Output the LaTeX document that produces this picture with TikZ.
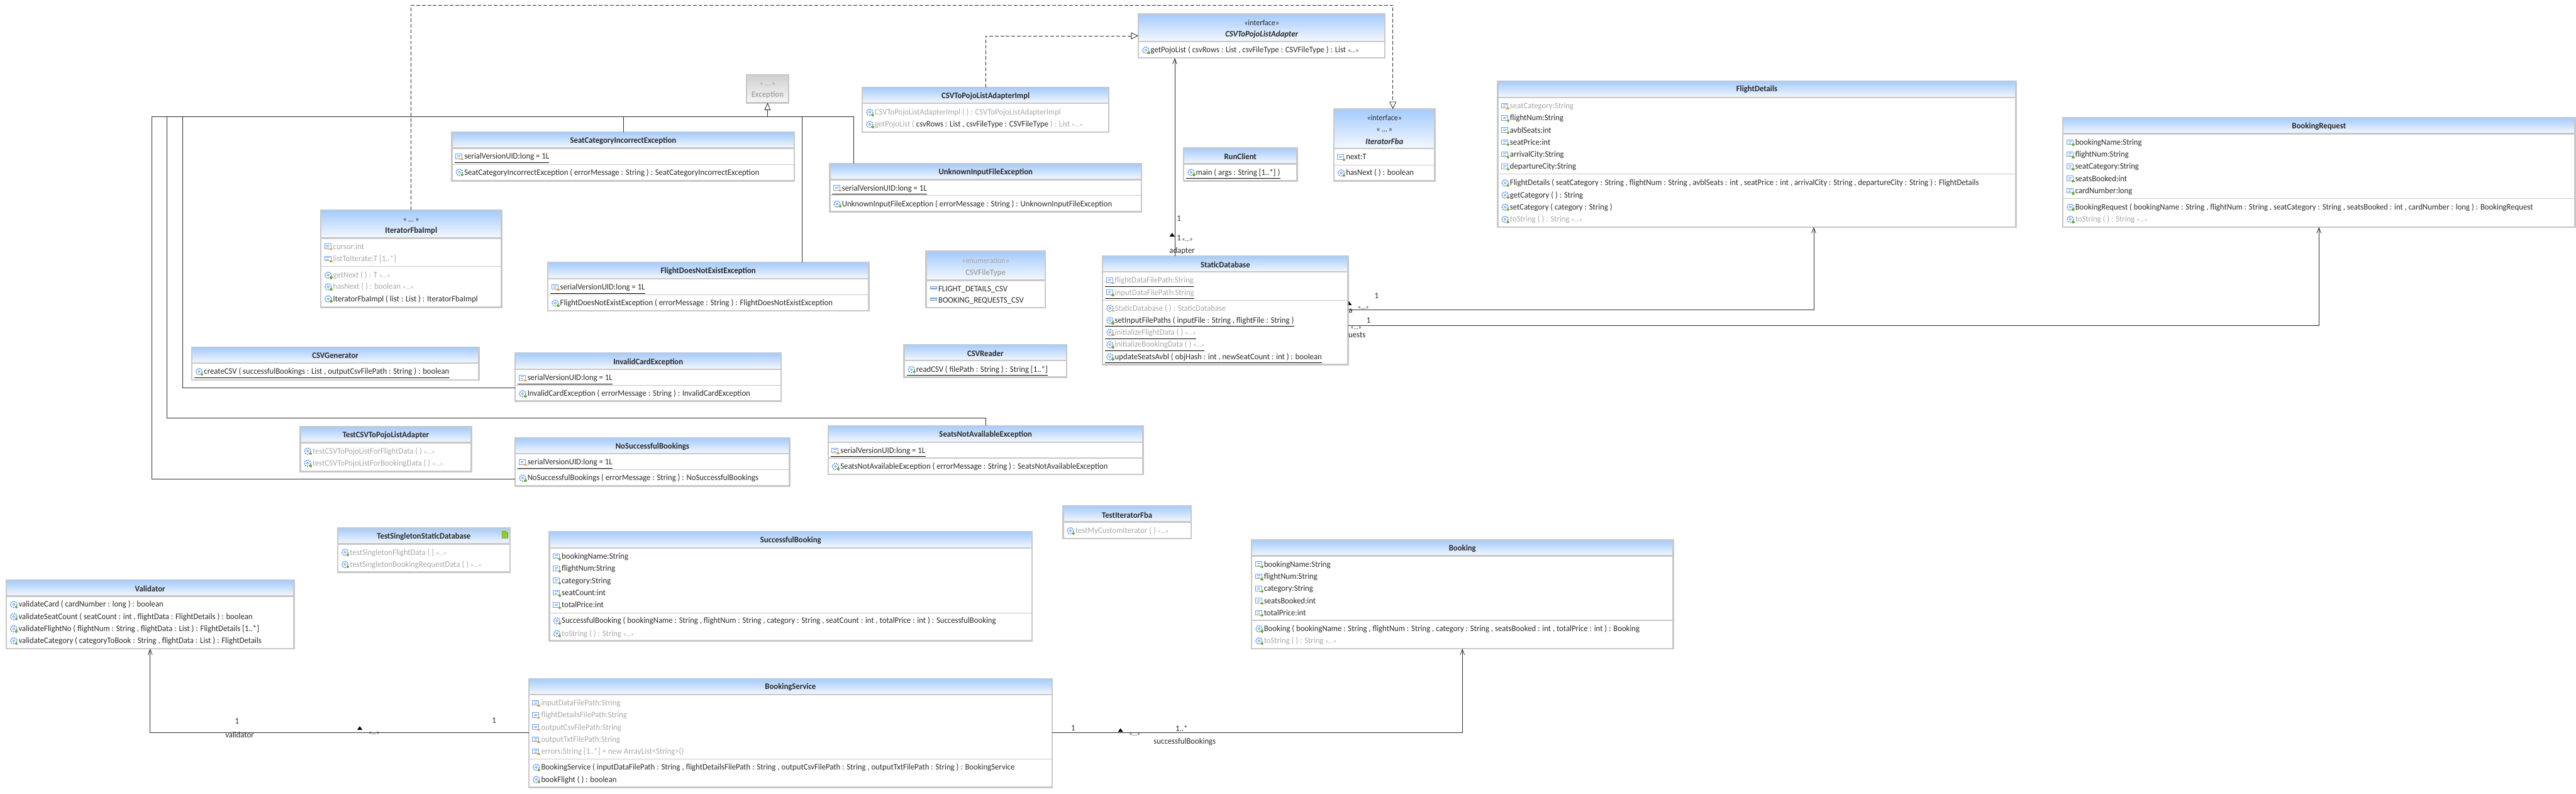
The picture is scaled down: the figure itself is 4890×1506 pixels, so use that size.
\documentclass[tikz,border=0pt]{standalone}
\usepackage{fontspec}
\setmainfont[FakeStretch=0.95]{Carlito}
\usetikzlibrary{arrows.meta,fit}

\definecolor{boxgray}{HTML}{C8C8C8}
\definecolor{rowdark}{HTML}{2A2A2A}
\definecolor{rowgray}{HTML}{A8A8A8}
\definecolor{linedark}{HTML}{303030}
\definecolor{headblue}{HTML}{A4CBFF}
\definecolor{iconblue}{HTML}{6C9FE8}
\definecolor{iconplus}{HTML}{6FAE2E}
\definecolor{iconminus}{HTML}{F0A030}

\tikzset{
    classbox/.style={draw=boxgray, line width=0.06cm, inner sep=0pt, outer sep=0pt},
    classhead/.style={top color=headblue, bottom color=headblue!12},
    grayhead/.style={top color=boxgray!85, bottom color=boxgray!15},
    headrule/.style={draw=boxgray, line width=0.06cm},
    comprule/.style={draw=boxgray, line width=0.03cm},
    titletext/.style={font=\fontsize{9.1}{10}\selectfont\bfseries, text=rowdark, inner sep=0pt},
    italictitle/.style={titletext, font=\fontsize{9.1}{10}\selectfont\bfseries\itshape},
    graytitle/.style={titletext, text=rowgray},
    stereotext/.style={font=\fontsize{8.6}{10}\selectfont, text=rowdark, inner sep=0pt},
    graystereo/.style={stereotext, text=rowgray},
    rowtext/.style={font=\fontsize{9.1}{10}\selectfont, text=rowdark, anchor=west, inner sep=0pt,
        text height=0.32cm, text depth=0.12cm},
    grayrow/.style={rowtext, text=rowgray},
    underrule/.style={draw=black, line width=0.02cm},
    conn/.style={draw=linedark, line width=0.02cm},
    openarrow/.style={conn, -{Straight Barb[length=0.2cm, width=0.16cm]}},
    realizes/.style={conn, dash pattern=on 0.14cm off 0.07cm, -{Triangle[open, length=0.28cm, width=0.26cm, fill=white]}},
    extends/.style={conn, -{Triangle[open, length=0.28cm, width=0.24cm, fill=white]}},
    assoclabel/.style={font=\fontsize{9.1}{10}\selectfont, text=rowdark, inner sep=0pt},
    tinylabel/.style={font=\fontsize{7}{8}\selectfont, text=rowdark, inner sep=0pt},
    fieldpub/.pic={
        \draw[iconblue, line width=0.02cm, fill=white] (-7,-5) rectangle (5,4);
        \draw[iconblue, line width=0.02cm] (-4,-2) -- (3,-2) (-4,1) -- (1,1);
        \draw[iconplus, line width=0.05cm] (3,5) -- (8,5) (5.5,2.5) -- (5.5,7.5);
    },
    fieldpriv/.pic={
        \draw[iconblue, line width=0.02cm, fill=white] (-7,-5) rectangle (5,4);
        \draw[iconblue, line width=0.02cm] (-4,-2) -- (3,-2) (-4,1) -- (1,1);
        \draw[iconminus, line width=0.06cm] (2,5) -- (8,5);
    },
    methpub/.pic={
        \draw[iconblue, line width=0.04cm, dash pattern=on 0.05cm off 0.03cm] (0,0) circle (6);
        \draw[iconblue, line width=0.02cm] (0,0) circle (2);
        \draw[iconplus, line width=0.05cm] (3,5) -- (8,5) (5.5,2.5) -- (5.5,7.5);
    },
    methpriv/.pic={
        \draw[iconblue, line width=0.04cm, dash pattern=on 0.05cm off 0.03cm] (0,0) circle (6);
        \draw[iconblue, line width=0.02cm] (0,0) circle (2);
        \draw[iconminus, line width=0.06cm] (2,5) -- (8,5);
    },
    enumlit/.pic={
        \draw[iconblue, line width=0.03cm, fill=iconblue!25] (-6,-4) rectangle (6,0);
    },
}

\newcommand{\umlbox}[7][classhead]{%
    \shade[#1] (#3,#4) rectangle (#5,#7);
    \node[classbox, fit={(#3,#4) (#5,#6)}] (#2) {};
    \draw[headrule] (#3,#7) -- (#5,#7);
}
\newcommand{\umltitle}[4][titletext]{%
    \node[#1] (#2-t#3) at (#2.north |- 0,#3) {#4};
}
\newcommand{\comprule}[2]{%
    \draw[comprule] (#1.west |- 0,#2) -- (#1.east |- 0,#2);
}
\newcommand{\member}[5][rowtext]{%
    \pic at ([xshift=0.28cm]#2.west |- 0,#3) {#4};
    \node[#1] (#2-#3) at ([xshift=0.46cm]#2.west |- 0,#3) {#5};
}
\newcommand{\staticmember}[5][rowtext]{%
    \member[#1]{#2}{#3}{#4}{#5}
    \draw[underrule] ([xshift=-0.36cm]#2-#3.south west) -- (#2-#3.south east);
}
\newcommand{\more}{{\fontsize{7}{8}\selectfont «...»}}
\newcommand{\dirmark}[2]{%
    \fill[black] (#1-5,#2+3) -- (#1+5,#2+3) -- (#1,#2-4) -- cycle;
}

\begin{document}
\begin{tikzpicture}[x=0.02cm, y=-0.02cm]
    \useasboundingbox (0,0) rectangle (4890,1506);

    \umlbox[grayhead]{exception}{1417}{142}{1497}{195}{195}
    \umltitle[graystereo]{exception}{160}{«\,...\,»}
    \umltitle[graytitle]{exception}{180}{Exception}

    \umlbox{seatCategory}{858}{251}{1508}{343}{281}
    \umltitle{seatCategory}{267}{SeatCategoryIncorrectException}
    \comprule{seatCategory}{312}
    \staticmember{seatCategory}{297}{fieldpriv}{serialVersionUID:long = 1L}
    \member{seatCategory}{327}{methpub}{SeatCategoryIncorrectException ( errorMessage : String ) : SeatCategoryIncorrectException}

    \umlbox{iteratorImpl}{609}{399}{952}{583}{452}
    \umltitle[stereotext]{iteratorImpl}{417}{«\,...\,»}
    \umltitle{iteratorImpl}{438}{IteratorFbaImpl}
    \comprule{iteratorImpl}{506}
    \member[grayrow]{iteratorImpl}{468}{fieldpriv}{cursor:int}
    \member[grayrow]{iteratorImpl}{491}{fieldpriv}{listToIterate:T [1..*]}
    \member[grayrow]{iteratorImpl}{522}{methpub}{getNext ( ) : T \more}
    \member[grayrow]{iteratorImpl}{544}{methpub}{hasNext ( ) : boolean \more}
    \member{iteratorImpl}{567}{methpub}{IteratorFbaImpl ( list : List ) : IteratorFbaImpl}

    \umlbox{flightNoExist}{1040}{498}{1649}{590}{529}
    \umltitle{flightNoExist}{515}{FlightDoesNotExistException}
    \comprule{flightNoExist}{559}
    \staticmember{flightNoExist}{545}{fieldpriv}{serialVersionUID:long = 1L}
    \member{flightNoExist}{575}{methpub}{FlightDoesNotExistException ( errorMessage : String ) : FlightDoesNotExistException}

    \umlbox{csvGenerator}{364}{659}{909}{721}{689}
    \umltitle{csvGenerator}{675}{CSVGenerator}
    \staticmember{csvGenerator}{705}{methpub}{createCSV ( successfulBookings : List , outputCsvFilePath : String ) : boolean}

    \umlbox{invalidCard}{978}{670}{1483}{761}{701}
    \umltitle{invalidCard}{687}{InvalidCardException}
    \comprule{invalidCard}{731}
    \staticmember{invalidCard}{717}{fieldpriv}{serialVersionUID:long = 1L}
    \member{invalidCard}{747}{methpub}{InvalidCardException ( errorMessage : String ) : InvalidCardException}

    \umlbox{pojoAdapter}{2161}{27}{2629}{110}{79}
    \umltitle[stereotext]{pojoAdapter}{43}{«interface»}
    \umltitle[italictitle]{pojoAdapter}{65}{CSVToPojoListAdapter}
    \member{pojoAdapter}{95}{methpub}{getPojoList ( csvRows : List , csvFileType : CSVFileType ) : List \more}

    \umlbox{pojoImpl}{1637}{166}{2105}{251}{196}
    \umltitle{pojoImpl}{183}{CSVToPojoListAdapterImpl}
    \member[grayrow]{pojoImpl}{213}{methpub}{CSVToPojoListAdapterImpl ( ) : CSVToPojoListAdapterImpl}
    \member[grayrow]{pojoImpl}{236}{methpub}{getPojoList ( \textcolor{rowdark}{csvRows : List , csvFileType : CSVFileType} ) : List \more}

    \umlbox{unknownInput}{1575}{311}{2167}{402}{341}
    \umltitle{unknownInput}{327}{UnknownInputFileException}
    \comprule{unknownInput}{371}
    \staticmember{unknownInput}{357}{fieldpriv}{serialVersionUID:long = 1L}
    \member{unknownInput}{387}{methpub}{UnknownInputFileException ( errorMessage : String ) : UnknownInputFileException}

    \umlbox{runClient}{2247}{281}{2462}{343}{311}
    \umltitle{runClient}{297}{RunClient}
    \staticmember{runClient}{327}{methpub}{main ( args : String [1..*] )}

    \umlbox{iteratorFba}{2532}{207}{2724}{343}{282}
    \umltitle[stereotext]{iteratorFba}{224}{«interface»}
    \umltitle[stereotext]{iteratorFba}{247}{«\,...\,»}
    \umltitle[italictitle]{iteratorFba}{268}{IteratorFba}
    \comprule{iteratorFba}{313}
    \member{iteratorFba}{298}{fieldpub}{next:T}
    \member{iteratorFba}{328}{methpub}{hasNext ( ) : boolean}

    \umlbox{csvFileType}{1758}{477}{1984}{584}{532}
    \umltitle[graystereo]{csvFileType}{494}{«enumeration»}
    \umltitle[graytitle]{csvFileType}{518}{CSVFileType}
    \member{csvFileType}{548}{enumlit}{FLIGHT\_DETAILS\_CSV}
    \member{csvFileType}{570}{enumlit}{BOOKING\_REQUESTS\_CSV}

    \umlbox{csvReader}{1716}{654}{2025}{716}{684}
    \umltitle{csvReader}{671}{CSVReader}
    \staticmember{csvReader}{701}{methpub}{readCSV ( filePath : String ) : String [1..*]}

    \umlbox{staticDb}{2093}{486}{2559}{692}{516}
    \umltitle{staticDb}{502}{StaticDatabase}
    \comprule{staticDb}{570}
    \staticmember[grayrow]{staticDb}{532}{fieldpriv}{flightDataFilePath:String}
    \staticmember[grayrow]{staticDb}{555}{fieldpub}{inputDataFilePath:String}
    \member[grayrow]{staticDb}{585}{methpriv}{StaticDatabase ( ) : StaticDatabase}
    \staticmember{staticDb}{608}{methpub}{setInputFilePaths ( inputFile : String , flightFile : String )}
    \staticmember[grayrow]{staticDb}{631}{methpriv}{initializeFlightData ( ) \more}
    \staticmember[grayrow]{staticDb}{654}{methpub}{initializeBookingData ( ) \more}
    \staticmember{staticDb}{677}{methpub}{updateSeatsAvbl ( objHash : int , newSeatCount : int ) : boolean}

    \umlbox{flightDetails}{2843}{154}{3827}{431}{185}
    \umltitle{flightDetails}{170}{FlightDetails}
    \comprule{flightDetails}{330}
    \member[grayrow]{flightDetails}{201}{fieldpriv}{seatCategory:String}
    \member{flightDetails}{224}{fieldpub}{flightNum:String}
    \member{flightDetails}{247}{fieldpub}{avblSeats:int}
    \member{flightDetails}{270}{fieldpub}{seatPrice:int}
    \member{flightDetails}{293}{fieldpub}{arrivalCity:String}
    \member{flightDetails}{316}{fieldpub}{departureCity:String}
    \member{flightDetails}{347}{methpub}{FlightDetails ( seatCategory : String , flightNum : String , avblSeats : int , seatPrice : int , arrivalCity : String , departureCity : String ) : FlightDetails}
    \member{flightDetails}{370}{methpub}{getCategory ( ) : String}
    \member{flightDetails}{393}{methpub}{setCategory ( category : String )}
    \member[grayrow]{flightDetails}{416}{methpub}{toString ( ) : String \more}

    \umlbox{bookingRequest}{3916}{223}{4888}{431}{254}
    \umltitle{bookingRequest}{240}{BookingRequest}
    \comprule{bookingRequest}{377}
    \member{bookingRequest}{270}{fieldpub}{bookingName:String}
    \member{bookingRequest}{293}{fieldpub}{flightNum:String}
    \member{bookingRequest}{316}{fieldpub}{seatCategory:String}
    \member{bookingRequest}{339}{fieldpub}{seatsBooked:int}
    \member{bookingRequest}{362}{fieldpub}{cardNumber:long}
    \member{bookingRequest}{393}{methpub}{BookingRequest ( bookingName : String , flightNum : String , seatCategory : String , seatsBooked : int , cardNumber : long ) : BookingRequest}
    \member[grayrow]{bookingRequest}{416}{methpub}{toString ( ) : String \more}

    \umlbox{testPojo}{570}{810}{895}{895}{840}
    \umltitle{testPojo}{826}{TestCSVToPojoListAdapter}
    \member[grayrow]{testPojo}{856}{methpub}{testCSVToPojoListForFlightData ( ) \more}
    \member[grayrow]{testPojo}{879}{methpub}{testCSVToPojoListForBookingData ( ) \more}

    \umlbox{noSuccessful}{978}{831}{1499}{922}{861}
    \umltitle{noSuccessful}{847}{NoSuccessfulBookings}
    \comprule{noSuccessful}{891}
    \staticmember{noSuccessful}{877}{fieldpriv}{serialVersionUID:long = 1L}
    \member{noSuccessful}{907}{methpub}{NoSuccessfulBookings ( errorMessage : String ) : NoSuccessfulBookings}

    \umlbox{seatsNot}{1572}{808}{2170}{900}{839}
    \umltitle{seatsNot}{825}{SeatsNotAvailableException}
    \comprule{seatsNot}{869}
    \staticmember{seatsNot}{855}{fieldpriv}{serialVersionUID:long = 1L}
    \member{seatsNot}{885}{methpub}{SeatsNotAvailableException ( errorMessage : String ) : SeatsNotAvailableException}

    \umlbox{testSingleton}{641}{1002}{968}{1086}{1032}
    \umltitle{testSingleton}{1018}{TestSingletonStaticDatabase}
    \member[grayrow]{testSingleton}{1048}{methpub}{testSingletonFlightData ( ) \more}
    \member[grayrow]{testSingleton}{1071}{methpub}{testSingletonBookingRequestData ( ) \more}
    \draw[fill=iconplus!70!yellow, draw=iconplus, line width=0.02cm] (953,1008) -- (960,1008) -- (964,1011) -- (964,1021) -- (953,1021) -- cycle;

    \umlbox{successful}{1043}{1009}{1959}{1216}{1040}
    \umltitle{successful}{1026}{SuccessfulBooking}
    \comprule{successful}{1163}
    \member{successful}{1056}{fieldpub}{bookingName:String}
    \member{successful}{1079}{fieldpub}{flightNum:String}
    \member{successful}{1102}{fieldpub}{category:String}
    \member{successful}{1125}{fieldpub}{seatCount:int}
    \member{successful}{1148}{fieldpub}{totalPrice:int}
    \member{successful}{1178}{methpub}{SuccessfulBooking ( bookingName : String , flightNum : String , category : String , seatCount : int , totalPrice : int ) : SuccessfulBooking}
    \member[grayrow]{successful}{1202}{methpub}{toString ( ) : String \more}

    \umlbox{validator}{12}{1101}{558}{1231}{1131}
    \umltitle{validator}{1117}{Validator}
    \member{validator}{1147}{methpub}{validateCard ( cardNumber : long ) : boolean}
    \member{validator}{1170}{methpub}{validateSeatCount ( seatCount : int , flightData : FlightDetails ) : boolean}
    \member{validator}{1193}{methpub}{validateFlightNo ( flightNum : String , flightData : List ) : FlightDetails [1..*]}
    \member{validator}{1216}{methpub}{validateCategory ( categoryToBook : String , flightData : List ) : FlightDetails}

    \umlbox{bookingService}{1004}{1288}{1997}{1494}{1318}
    \umltitle{bookingService}{1304}{BookingService}
    \comprule{bookingService}{1440}
    \member[grayrow]{bookingService}{1334}{fieldpriv}{inputDataFilePath:String}
    \member[grayrow]{bookingService}{1357}{fieldpriv}{flightDetailsFilePath:String}
    \member[grayrow]{bookingService}{1380}{fieldpriv}{outputCsvFilePath:String}
    \member[grayrow]{bookingService}{1403}{fieldpriv}{outputTxtFilePath:String}
    \member[grayrow]{bookingService}{1426}{fieldpriv}{errors:String [1..*] = new ArrayList<String>()}
    \member{bookingService}{1456}{methpub}{BookingService ( inputDataFilePath : String , flightDetailsFilePath : String , outputCsvFilePath : String , outputTxtFilePath : String ) : BookingService}
    \member{bookingService}{1479}{methpub}{bookFlight ( ) : boolean}

    \umlbox{testIterator}{2018}{960}{2261}{1022}{990}
    \umltitle{testIterator}{977}{TestIteratorFba}
    \member[grayrow]{testIterator}{1007}{methpub}{testMyCustomIterator ( ) \more}

    \umlbox{booking}{2376}{1025}{3176}{1231}{1055}
    \umltitle{booking}{1041}{Booking}
    \comprule{booking}{1177}
    \member{booking}{1071}{fieldpub}{bookingName:String}
    \member{booking}{1094}{fieldpub}{flightNum:String}
    \member{booking}{1117}{fieldpub}{category:String}
    \member{booking}{1140}{fieldpub}{seatsBooked:int}
    \member{booking}{1163}{fieldpub}{totalPrice:int}
    \member{booking}{1193}{methpub}{Booking ( bookingName : String , flightNum : String , category : String , seatsBooked : int , totalPrice : int ) : Booking}
    \member[grayrow]{booking}{1216}{methpub}{toString ( ) : String \more}

    \coordinate (treeJoin) at (exception.south |- 0,221);
    \coordinate (treeOuter) at (288,221);
    \coordinate (treeMiddle) at (317,221);
    \coordinate (treeInner) at (347,221);
    \coordinate (treeEnd) at (1620,221);
    \draw[extends] (treeJoin) -- (exception);
    \draw[conn] (treeOuter) -- (treeEnd) -- (unknownInput.north -| treeEnd);
    \draw[conn] (noSuccessful.west |- 0,909) -| (treeOuter);
    \draw[conn] (seatsNot.north) -- (seatsNot.north |- 0,793) -| (treeMiddle);
    \draw[conn] (invalidCard.west |- 0,736) -| (treeInner);
    \draw[conn] (seatCategory.north) -- (seatCategory.north |- treeJoin);
    \draw[conn] (flightNoExist.north -| 1523,0) -- (1523,221);

    \draw[realizes] (iteratorImpl.north) |- (2644,10) -- (iteratorFba.north -| 2644,0);
    \draw[realizes] (pojoImpl.north) |- (pojoAdapter.west |- 0,68);
    \draw[openarrow] (staticDb.north -| 2230,0) -- (pojoAdapter.south -| 2230,0);
    \draw[openarrow] (staticDb.east |- 0,588) -| (flightDetails.south -| 3443,0);
    \draw[openarrow] (staticDb.east |- 0,618) -| (bookingRequest.south -| 4402,0);
    \draw[openarrow] (bookingService.west |- 0,1390) -| (validator.south);
    \draw[openarrow] (bookingService.east |- 0,1390) -| (booking.south);

    \node[assoclabel] (adapterOne) at (2238,415) {1};
    \node[assoclabel] (adapterTwo) at (2238,452) {1};
    \node[tinylabel] (adapterMore) at (2254,455) {«...»};
    \node[assoclabel] (adapterName) at (2244,476) {adapter};
    \dirmark{2225}{446}

    \node[assoclabel] (flightOne) at (2613,561) {1};
    \node[assoclabel] (flightName) at (2564,590) {a};
    \node[tinylabel] (flightMore) at (2588,584) {«...»};
    \fill[black] (2560,571) -- (2566,579) -- (2560,579) -- cycle;
    \node[assoclabel] (requestOne) at (2598,608) {1};
    \node[tinylabel] (requestMore) at (2574,622) {«...»};
    \node[assoclabel] (requestName) at (2576,635) {uests};

    \node[assoclabel] (validatorOne) at (450,1368) {1};
    \node[assoclabel] (validatorName) at (455,1394) {validator};
    \node[tinylabel] (validatorMore) at (710,1391) {«...»};
    \node[assoclabel] (serviceOne) at (938,1367) {1};
    \dirmark{683}{1382}

    \node[assoclabel] (bookingOne) at (2037,1381) {1};
    \node[assoclabel] (bookingMany) at (2243,1382) {1..*};
    \node[tinylabel] (bookingMore) at (2154,1394) {«...»};
    \node[assoclabel] (bookingName) at (2249,1408) {successfulBookings};
    \dirmark{2127}{1386}
\end{tikzpicture}
\end{document}
